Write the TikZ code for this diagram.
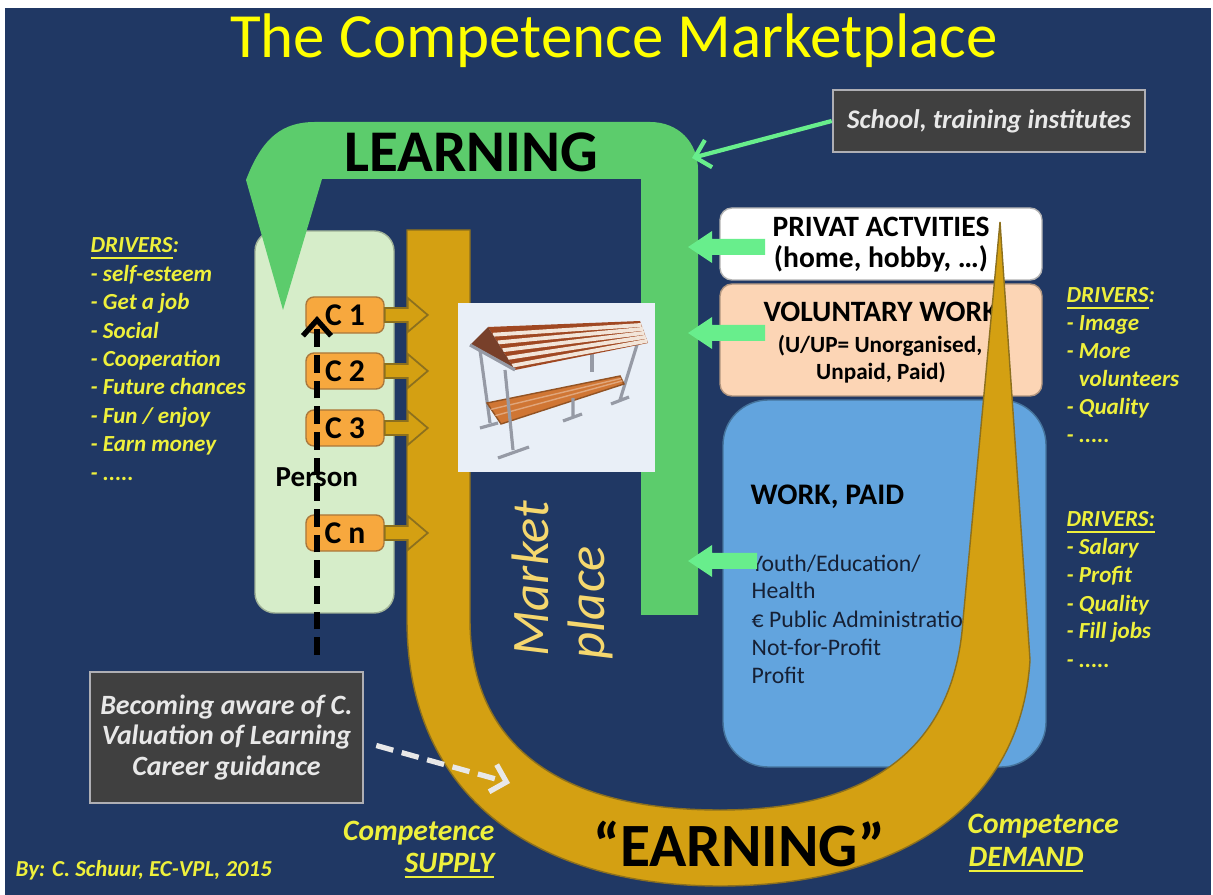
\documentclass[tikz,border=0pt]{standalone}
\usepackage{fontspec}
\setmainfont{Carlito}
\usetikzlibrary{arrows.meta,calc}
\definecolor{navy}{RGB}{32,56,100}
\definecolor{titleyellow}{RGB}{255,255,0}
\definecolor{txtyellow}{RGB}{238,240,60}
\definecolor{mktyellow}{RGB}{245,215,110}
\definecolor{gold}{RGB}{212,160,18}
\definecolor{golddark}{RGB}{140,112,30}
\definecolor{learngreen}{RGB}{92,204,108}
\definecolor{lightgreen}{RGB}{104,238,140}
\definecolor{persongreen}{RGB}{214,237,201}
\definecolor{corange}{RGB}{247,168,62}
\definecolor{corangedark}{RGB}{170,120,60}
\definecolor{peach}{RGB}{252,213,181}
\definecolor{workblue}{RGB}{98,164,222}
\definecolor{worktext}{RGB}{22,32,52}
\definecolor{greybox}{RGB}{64,64,64}
\definecolor{notegrey}{RGB}{175,175,180}
\definecolor{notetext}{RGB}{232,232,232}
\definecolor{stallbg}{RGB}{233,239,247}
\definecolor{roofbrown}{RGB}{160,72,34}
\definecolor{gablebrown}{RGB}{120,64,42}
\definecolor{wood}{RGB}{208,118,52}
\definecolor{legrey}{RGB}{150,154,165}
\newcommand{\etcdots}{- .....}
\begin{document}
\begin{tikzpicture}[x=0.01cm,y=-0.01cm,
  every node/.style={inner sep=0pt},
  drv/.style={anchor=base west,text=txtyellow,font=\fontsize{6.55}{8}\selectfont\bfseries\itshape},
  boxtxt/.style={anchor=base,font=\fontsize{8.4}{10}\selectfont\bfseries},
  smalltxt/.style={anchor=base,font=\fontsize{6.6}{8}\selectfont\bfseries},
  worktxt/.style={anchor=base west,text=worktext,font=\fontsize{6.75}{8}\selectfont},
  cbox/.style={draw=corangedark,fill=corange,rounded corners=0.8mm,minimum width=0.78cm,minimum height=0.36cm,font=\fontsize{9}{10}\selectfont\bfseries},
  carrow/.style={fill=gold,draw=golddark,line width=0.5pt},
  greynote/.style={fill=greybox,draw=notegrey,line width=0.7pt,text=notetext,font=\fontsize{7.65}{9}\selectfont\bfseries\itshape},
  comp/.style={text=txtyellow,font=\fontsize{8.4}{9}\selectfont\bfseries\itshape},
  leg/.style={legrey,line width=0.9pt}]
\useasboundingbox (0,0) rectangle (1213,895);
\fill[white] (0,0) rectangle (1213,895);
\fill[navy] (5,8) rectangle (1211,895);

\node[anchor=base,text=titleyellow,font=\fontsize{17.9}{21}\selectfont] (title) at (614,58) {The Competence Marketplace};

\draw[draw=persongreen!75!black,fill=persongreen,rounded corners=2mm] (255,231) rectangle (394,613);
\node[anchor=base west,font=\fontsize{8.25}{10}\selectfont\bfseries] (person) at (275,487) {Person};

\fill[learngreen] (641,615) -- (641,179) -- (322,179) -- (283,310) -- (246,180)
  .. controls (262,138) and (282,122) .. (315,122) -- (650,122)
  .. controls (678,122) and (698,142) .. (698,170) -- (698,615) -- cycle;
\node[anchor=base,font=\fontsize{16.8}{20}\selectfont\bfseries] (learning) at (471,172) {LEARNING};

\node[greynote,minimum width=3.12cm,minimum height=0.62cm] (school) at (989,121) {School, training institutes};
\coordinate (lrn) at (692,158);
\draw[lightgreen,line width=1.2pt,-{Straight Barb[length=4pt,width=8pt]}] (school.west) -- (lrn);

\draw[draw=gray!60,fill=white,rounded corners=1.2mm] (720,208) rectangle (1042,280);
\node[boxtxt] (privat1) at (881,237) {PRIVAT ACTVITIES};
\node[boxtxt] (privat2) at (881,268) {(home, hobby, …)};

\draw[draw=peach!70!black,fill=peach,rounded corners=1.2mm] (720,284) rectangle (1042,396);
\node[boxtxt] (vol1) at (881,322) {VOLUNTARY WORK};
\node[smalltxt] (vol2) at (880,353) {(U/UP= Unorganised,};
\node[smalltxt] (vol3) at (881,380) {Unpaid, Paid)};

\draw[draw=workblue!70!black,fill=workblue,rounded corners=4.5mm] (723,400) rectangle (1046,767);
\node[anchor=base west,font=\fontsize{8.5}{10}\selectfont\bfseries] (work) at (750,505) {WORK, PAID};
\foreach \t [count=\i] in {Youth/Education/,Health,€ Public Administration,Not-for-Profit,Profit}
  \node[worktxt] (w\i) at (751,543+28*\i) {\t};

\filldraw[fill=gold,draw=golddark,line width=0.4pt] (407,230) -- (407,620)
  .. controls (407,800) and (540,886) .. (720,886)
  .. controls (880,886) and (1020,820) .. (1030,660) -- (1000,222) -- (963,620)
  .. controls (955,740) and (880,810) .. (720,810)
  .. controls (540,810) and (470,730) .. (470,620) -- (470,230) -- cycle;

\foreach \y/\e in {247/765,333/765,561/757}
  \fill[lightgreen] (\e,\y-8) -- (712,\y-8) -- (712,\y-16) -- (688,\y) -- (712,\y+16) -- (712,\y+8) -- (\e,\y+8) -- cycle;

\foreach \n/\l/\y in {c1/C 1/315,c2/C 2/371,c3/C 3/428,cn/C n/533}{
  \node[cbox] (\n) at (345,\y) {\l};
  \filldraw[carrow] ([shift={(0,-7)}]\n.east) -- ++(23,0) -- ++(0,-10) -- ++(20,17) -- ++(-20,17) -- ++(0,-10) -- ++(-23,0) -- cycle;
}

\node[fill=stallbg,minimum width=1.97cm,minimum height=1.69cm] (stall) at (556.5,387.5) {};
\draw[leg] (480,350) -- (490,423) (480,428) -- (498,423);
\draw[leg] (592,340) -- (592,372);
\draw[leg] (640,335) -- (620,400) (611,404) -- (629,397);
\filldraw[fill=wood,draw=wood!70!black,line width=0.4pt] (487,403) -- (620,376) -- (624,384) -- (501,424) -- cycle;
\foreach \t in {0.3,0.6}
  \draw[wood!65!white,line width=0.4pt] ($(487,403)!\t!(501,424)$) -- ($(620,376)!\t!(624,384)$);
\draw[leg] (505,370) -- (513,450) (498,458) -- (529,447);
\draw[leg] (573,398) -- (573,417) (563,421) -- (582,414);
\fill[roofbrown] (488,327) -- (640,321) -- (648,343) -- (515,370) -- cycle;
\foreach \t in {0.18,0.36,0.54,0.72,0.9}
  \draw[white!80!brown,line width=1.1pt] ($(488,327)!\t!(515,370)$) -- ($(640,321)!\t!(648,343)$);
\fill[gablebrown] (470,345) -- (488,327) -- (515,370) -- cycle;
\draw[leg] (470,345) -- (515,370);

\node[rotate=90,anchor=base west,text=mktyellow,font=\fontsize{15}{18}\selectfont\itshape] (mkt1) at (548,657) {Market};
\node[rotate=90,anchor=base west,text=mktyellow,font=\fontsize{15}{18}\selectfont\itshape] (mkt2) at (604,660) {place};

\coordinate (aw) at (317,655);
\coordinate (c1tip) at (317,316);
\draw[black,line width=1.5pt,dash pattern=on 5pt off 2.3pt,-{Straight Barb[length=4.5pt,width=8pt]}] (aw) -- (c1tip);

\foreach \t [count=\i from 0] in {\underline{DRIVERS}:,- self-esteem,- Get a job,- Social,- Cooperation,- Future chances,- Fun / enjoy,- Earn money,\etcdots}
  \node[drv] (dl\i) at (90,253+28.4*\i) {\t};
\foreach \t [count=\i from 0] in {\underline{DRIVERS}:,- Image,- More,\phantom{- }volunteers,- Quality,\etcdots}
  \node[drv] (dv\i) at (1066,303+28*\i) {\t};
\foreach \t [count=\i from 0] in {\underline{DRIVERS:},- Salary,- Profit,- Quality,- Fill jobs,\etcdots}
  \node[drv] (dw\i) at (1066,527+28*\i) {\t};

\node[greynote,minimum width=2.73cm,minimum height=1.31cm,align=center,font=\fontsize{7.94}{8.8}\selectfont\bfseries\itshape] (aware) at (226.5,737.5) {Becoming aware of C.\\Valuation of Learning\\Career guidance};
\coordinate (gold) at (510,783);
\draw[notetext,line width=1.5pt,dash pattern=on 5pt off 2.5pt,-{Straight Barb[length=4pt,width=8pt]}] ([shift={(12,8)}]aware.east) -- (gold);

\node[comp,anchor=base east] (sup1) at (495,840) {Competence};
\node[comp,anchor=base east] (sup2) at (495,872) {\underline{SUPPLY}};
\node[comp,anchor=base west] (dem1) at (967,833) {Competence};
\node[comp,anchor=base west] (dem2) at (968,866) {\underline{DEMAND}};
\node[anchor=base,font=\fontsize{17.5}{20}\selectfont\bfseries] (earning) at (739,866) {“EARNING”};
\node[anchor=base west,text=txtyellow,font=\fontsize{6.5}{8}\selectfont\bfseries\itshape] (by) at (15,876) {By: C. Schuur, EC-VPL, 2015};
\end{tikzpicture}
\end{document}
